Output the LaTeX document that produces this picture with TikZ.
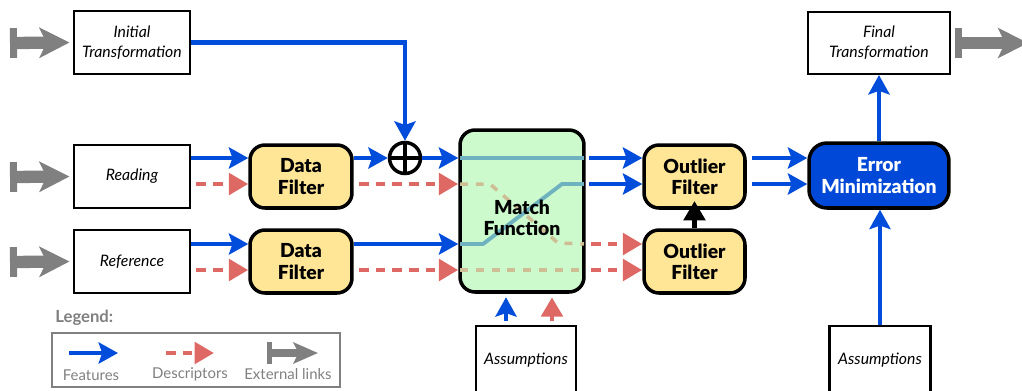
\documentclass[tikz,border=0pt]{standalone}
\usepackage{fontspec}
\setmainfont{Lato}
\newfontfamily\heavyfont{Lato Black}
\usetikzlibrary{arrows.meta}
\definecolor{featblue}{RGB}{0,76,219}
\definecolor{descred}{RGB}{221,104,100}
\definecolor{extgray}{RGB}{128,128,128}
\definecolor{filtyellow}{RGB}{255,230,150}
\definecolor{matchgreen}{RGB}{205,250,205}
\definecolor{errblue}{RGB}{0,72,216}
\definecolor{innerteal}{RGB}{110,178,192}
\definecolor{innertan}{RGB}{205,190,150}
\begin{document}
\begin{tikzpicture}[x=0.02cm,y=-0.02cm,
  iobox/.style={draw=black, line width=1.2pt, fill=white, minimum width=2.32cm, minimum height=1.26cm, align=center, font=\fontsize{9}{11.5}\selectfont\itshape, inner sep=1pt},
  procbox/.style={draw=black, line width=2pt, rounded corners=0.3cm, fill=filtyellow, minimum width=2.04cm, minimum height=1.26cm, align=center, font=\fontsize{11}{12}\selectfont\heavyfont, inner sep=1pt},
  feat/.style={draw=featblue, line width=2.8pt, -{Stealth[length=11pt,width=12pt,inset=2pt]}},
  descbase/.style={draw=descred, line width=2.8pt, -{Triangle[length=11pt,width=12pt]}},
  desc/.style={descbase, dash pattern=on 5.5pt off 4pt, shorten <=3pt},
  extl/.style={draw=extgray, line width=7pt, {Rectangle[length=4pt,width=17pt]}-{Stealth[length=17pt,width=17pt,inset=4pt]}},
  extlsmall/.style={draw=extgray, line width=5pt, {Rectangle[length=3pt,width=12pt]}-{Stealth[length=14pt,width=12pt,inset=3pt]}},
  blackarrow/.style={draw=black, line width=2.8pt, -{Triangle[length=11pt,width=12pt]}},
  innerteal/.style={draw=innerteal, line width=2.2pt},
  innertan/.style={draw=innertan, line width=2pt, dash pattern=on 4.5pt off 4.5pt},
  leglabel/.style={text=extgray, font=\fontsize{8.5}{10}\selectfont, inner sep=1pt}
]
\useasboundingbox (0,0) rectangle (1022,390);

% row coordinates
\coordinate (ya) at (0,158);
\coordinate (yb) at (0,184);
\coordinate (yc) at (0,244);
\coordinate (yd) at (0,270);
\coordinate (xa) at (506,0);
\coordinate (xb) at (552,0);

% input boxes
\node[iobox] (init) at (132,42.5) {Initial\\Transformation};
\node[iobox] (read) at (132,176.5) {Reading};
\node[iobox] (ref) at (132,261.5) {Reference};

% filters
\node[procbox] (df1) at (301,176.5) {Data\\Filter};
\node[procbox] (df2) at (301,261.5) {Data\\Filter};

% oplus
\node[circle, draw=black, line width=2pt, fill=white, minimum size=0.62cm, inner sep=0pt] (op) at (405,158) {};
\draw[line width=2pt] (op.north) -- (op.south) (op.west) -- (op.east);

% match function
\node[procbox, fill=matchgreen, minimum width=2.48cm, minimum height=3.24cm] (match) at (522,211) {};
\draw[innerteal, shorten <=1pt, shorten >=1pt] (match.west |- ya) -- (match.east |- ya);
\draw[innertan, shorten <=1pt, shorten >=1pt] (match.west |- yd) -- (match.east |- yd);
\draw[innertan, shorten <=1pt, shorten >=1pt] (match.west |- yb) -- (490,184) -- (558,243) -- (match.east |- yc);
\draw[innerteal, shorten <=1pt, shorten >=1pt] (match.west |- yc) -- (483,244) -- (562,184) -- (match.east |- yb);
\node[align=center, font=\fontsize{11}{12}\selectfont\heavyfont, inner sep=0pt] (matchlbl) at ([yshift=-0.14cm]match.center) {Match\\Function};

% outlier filters
\node[procbox, minimum width=2.02cm] (of1) at (694.5,176.5) {Outlier\\Filter};
\node[procbox, minimum width=2.02cm] (of2) at (694.5,261.5) {Outlier\\Filter};

% error minimization
\node[procbox, fill=errblue, text=white, minimum width=2.8cm, minimum height=1.3cm, rounded corners=0.36cm] (err) at (879,175.5) {Error\\Minimization};

% final transformation
\node[iobox, minimum width=2.84cm, minimum height=1.24cm] (fin) at (879,43) {Final\\Transformation};

% assumptions
\node[iobox, minimum width=2.0cm, minimum height=1.36cm] (ass1) at (526,360) {Assumptions};
\node[iobox, minimum width=2.02cm, minimum height=1.36cm] (ass2) at (880,360) {Assumptions};

% external links
\coordinate (e1) at (10,43);
\coordinate (e2) at (10,177);
\coordinate (e3) at (10,262);
\coordinate (e4) at (1028,43);
\draw[extl, shorten >=2pt] (e1) -- (init.west);
\draw[extl, shorten >=2pt] (e2) -- (read.west);
\draw[extl, shorten >=2pt] (e3) -- (ref.west);
\draw[extl, shorten <=2pt] (fin.east) -- (e4);

% connectors
\draw[feat] (init.east) -| (op.north);
\draw[feat] (read.east |- ya) -- (df1.west |- ya);
\draw[desc] (read.east |- yb) -- (df1.west |- yb);
\draw[feat] (ref.east |- yc) -- (df2.west |- yc);
\draw[desc] (ref.east |- yd) -- (df2.west |- yd);
\draw[feat] (df1.east |- ya) -- (op.west);
\draw[feat] (op.east) -- (match.west |- op.east);
\draw[desc] (df1.east |- yb) -- (match.west |- yb);
\draw[feat] (df2.east |- yc) -- (match.west |- yc);
\draw[desc] (df2.east |- yd) -- (match.west |- yd);

\draw[feat, shorten <=2pt] (match.east |- ya) -- (of1.west |- ya);
\draw[feat, shorten <=2pt] (match.east |- yb) -- (of1.west |- yb);
\draw[desc] (match.east |- yc) -- (of2.west |- yc);
\draw[desc] (match.east |- yd) -- (of2.west |- yd);

\draw[blackarrow, shorten >=-5pt] (of2.north) -- (of1.south);

\draw[feat, shorten <=3pt] (of1.east |- ya) -- (err.west |- ya);
\draw[feat, shorten <=3pt] (of1.east |- yb) -- (err.west |- yb);

\draw[feat] (err.north) -- (fin.south);
\draw[feat] (ass2.north) -- (ass2.north |- err.south);

\draw[feat, shorten <=2pt, shorten >=2pt] (ass1.north -| xa) -- (match.south -| xa);
\draw[descbase, shorten <=2pt, shorten >=2pt] (ass1.north -| xb) -- (match.south -| xb);

% legend
\node[anchor=west, text=extgray, font=\fontsize{9.5}{11}\selectfont\bfseries, inner sep=0pt] (legt) at (55,318) {Legend:};
\node[draw=extgray, line width=1.2pt, minimum width=5.76cm, minimum height=1.08cm, inner sep=0pt] (legbox) at (196,360) {};
\coordinate (lf1) at (69,353);
\coordinate (lf2) at (118,353);
\coordinate (ld1) at (166,353);
\coordinate (ld2) at (214,353);
\coordinate (le1) at (267,353);
\coordinate (le2) at (318,353);
\draw[feat] (lf1) -- (lf2);
\draw[descbase, dash pattern=on 5.5pt off 4pt] (ld1) -- (ld2);
\draw[extlsmall] (le1) -- (le2);
\node[leglabel] (lfeat) at (91,375) {Features};
\node[leglabel] (ldesc) at (190,374) {Descriptors};
\node[leglabel] (lext) at (288,374) {External links};
\end{tikzpicture}
\end{document}
